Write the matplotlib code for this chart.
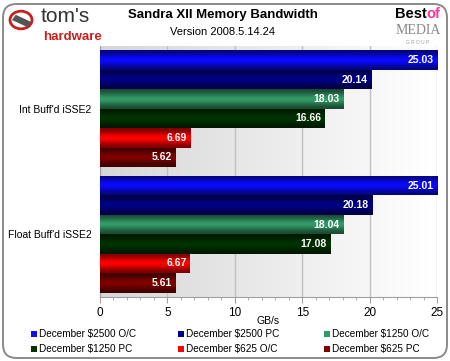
import numpy as np
import matplotlib
matplotlib.use("Agg")
import matplotlib.pyplot as plt
from matplotlib.patches import FancyBboxPatch, Circle, Rectangle
from matplotlib.colors import to_rgb

categories = ["Int Buff'd iSSE2", "Float Buff'd iSSE2"]
series = ["December $2500 O/C", "December $2500 PC", "December $1250 O/C",
          "December $1250 PC", "December $625 O/C", "December $625 PC"]
values = [
    [25.03, 25.01],
    [20.14, 20.18],
    [18.03, 18.04],
    [16.66, 17.08],
    [6.69, 6.67],
    [5.62, 5.61],
]
colors = ["#0a0aff", "#000088", "#339966", "#003300", "#ff0000", "#800000"]
xticks = [0, 5, 10, 15, 20, 25]

plt.rcParams['font.family'] = ['Liberation Sans', 'DejaVu Sans']

fig = plt.figure(figsize=(4.5, 3.61), dpi=100)
fig.patch.set_facecolor("white")

# rounded frame
frame = FancyBboxPatch((3/450, 3/361), 444/450, 354/361,
                       boxstyle="round,pad=0,rounding_size=0.03",
                       transform=fig.transFigure, fill=False,
                       edgecolor="#8a8a8a", linewidth=1.4, mutation_aspect=450/361)
fig.add_artist(frame)

ax = fig.add_axes([100/450, 1 - 297/361, 337/450, 251/361])

# background gradient
bg = np.linspace(0.84, 1.0, 256).reshape(1, -1)
bg_rgb = np.dstack([bg, bg, bg])
ax.imshow(bg_rgb, extent=[0, 25, -0.5, 1.5], aspect='auto', zorder=0)

n = len(series)
h = 0.155
ypos = np.arange(len(categories))
for i, (s, vals, c) in enumerate(zip(series, values, colors)):
    offs = (i - (n - 1) / 2) * h
    bars = ax.barh(ypos + offs, vals, height=h, color=c, zorder=3, linewidth=0)
    base = np.array(to_rgb(c))
    t = np.linspace(0, 1, 64)
    prof = 0.45 + 0.55 * np.exp(-((t - 0.5) / 0.3) ** 2)
    grad = np.clip(base[None, :] * prof[:, None], 0, 1)
    grad = grad[:, None, :]
    for rect, v in zip(bars, vals):
        x0, y0, w, hh = rect.get_x(), rect.get_y(), rect.get_width(), rect.get_height()
        im = ax.imshow(grad, extent=[x0, x0 + w, y0, y0 + hh], aspect='auto', zorder=4)
        im.set_clip_path(rect)
        ax.text(x0 + w - 0.25, y0 + hh / 2, f"{v:.2f}", color="white",
                fontsize=7.5, fontweight="bold", ha="right", va="center", zorder=6)

ax.set_xlim(0, 25)
ax.set_ylim(1.5, -0.5)
ax.set_xticks(xticks)
ax.set_xticks(np.arange(0, 26, 1), minor=True)
ax.set_yticks(ypos)
ax.set_yticklabels(categories, fontsize=7.5)
ax.tick_params(axis='y', length=0, pad=6)
ax.tick_params(axis='x', which='major', length=4, color="#a0a0a0", labelsize=8.5, pad=3)
ax.tick_params(axis='x', which='minor', length=2, color="#a0a0a0")
ax.grid(axis='x', color="#c0c0c0", linewidth=1, zorder=1)
ax.set_axisbelow(True)
for sp in ["top", "right"]:
    ax.spines[sp].set_visible(False)
ax.spines["left"].set_color("#a0a0a0")
ax.spines["bottom"].set_color("#a0a0a0")
ax.set_xlabel("GB/s", fontsize=7.5, labelpad=-2)

# title
fig.text(223/450, 1 - 15/361, "Sandra XII Memory Bandwidth", ha="center", va="center",
         fontsize=9.5, fontweight="bold")
fig.text(223/450, 1 - 32/361, "Version 2008.5.14.24", ha="center", va="center", fontsize=8)

# tom's hardware logo
fig.text(41/450, 1 - 17/361, "tom's", ha="left", va="center", fontsize=15, color="#333333")
fig.text(43/450, 1 - 37/361, "hardware", ha="left", va="center", fontsize=9.5,
         color="#c8201e", fontweight="bold")
fig.add_artist(Circle((21/450, 1 - 20/361), 11/450, transform=fig.transFigure,
                      fill=False, edgecolor="#c8201e", linewidth=2))
fig.add_artist(Rectangle((12/450, 1 - 20/361), 18/450, 6/361, angle=-30,
                         transform=fig.transFigure, facecolor="#555555"))

# Best of Media logo
renderer = fig.canvas.get_renderer()
tb = fig.text(395/450, 1 - 14/361, "Best", ha="left", va="center", fontsize=10.5,
              fontweight="bold", color="black")
bb = tb.get_window_extent(renderer=renderer)
fig.text(bb.x1 / fig.bbox.width, 1 - 14/361, "of", ha="left", va="center", fontsize=10.5,
         fontweight="bold", color="#ff3399")
fig.text(418/450, 1 - 31/361, "MEDIA", ha="center", va="center", fontsize=10,
         color="#888888", family="Liberation Serif")
fig.text(418/450, 1 - 42/361, "G R O U P", ha="center", va="center", fontsize=3.5,
         color="#999999")

# legend
leg_x = [31, 178, 324]
leg_y = [334, 349]
for i, (s, c) in enumerate(zip(series, colors)):
    r, col = divmod(i, 3)
    x = leg_x[col] / 450
    y = 1 - leg_y[r] / 361
    fig.add_artist(Rectangle((x, y - 3/361), 6/450, 6/361, transform=fig.transFigure,
                             facecolor=c, edgecolor="none"))
    fig.text(x + 8/450, y, s, ha="left", va="center", fontsize=7.2)

fig.savefig("out.png", dpi=100, facecolor="white")
